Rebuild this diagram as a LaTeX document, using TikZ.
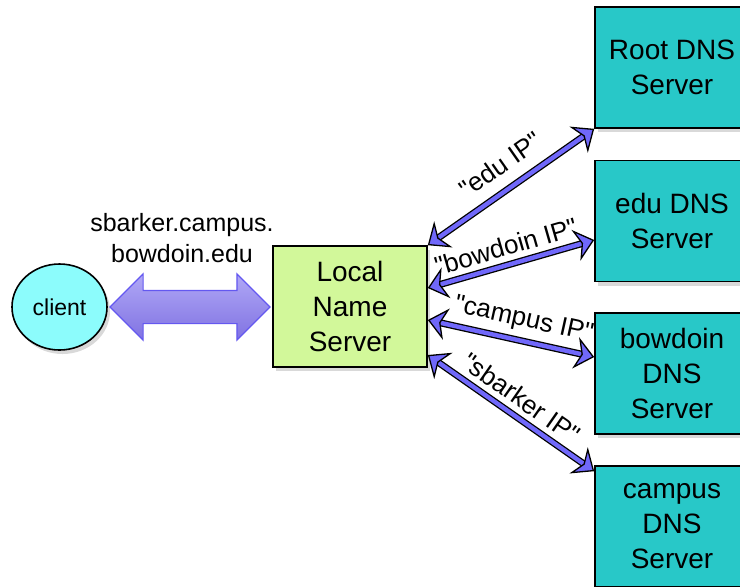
\documentclass[tikz,border=0pt]{standalone}
\usepackage{fontspec}
\setmainfont{Liberation Sans}
\usetikzlibrary{arrows.meta,shapes.arrows,shapes.geometric,shadows}
\definecolor{clientcyan}{RGB}{140,252,252}
\definecolor{localgreen}{RGB}{210,248,154}
\definecolor{servteal}{RGB}{40,200,200}
\definecolor{linkblue}{RGB}{112,104,250}
\definecolor{fattop}{RGB}{176,168,246}
\definecolor{fatbot}{RGB}{128,114,226}
\definecolor{fatedge}{RGB}{100,88,240}
\newcommand{\qt}[1]{\textquotedbl#1\textquotedbl}

\begin{document}
\begin{tikzpicture}[x=0.5pt,y=-0.5pt,
  box/.style={draw=black,line width=0.8pt,minimum width=77pt,minimum height=60.5pt,
    align=center,font=\fontsize{14}{17.5}\selectfont,
    drop shadow={shadow xshift=1.5pt,shadow yshift=-2pt,opacity=0.3}},
  server/.style={box,fill=servteal},
  tipend/.tip={Stealth[length=9.5pt,width=16pt,inset=3pt,fill=linkblue,color=black,line width=0.65pt]},
  link/.style={draw=linkblue,line width=2.2pt,tipend-tipend,
    preaction={draw=black,-,line width=3.5pt,shorten <=6pt,shorten >=6pt}},
  ip/.style={sloped,above,font=\fontsize{13}{15}\selectfont}]
\path[use as bounding box] (0,0) rectangle (740,586);
\clip (0,0) rectangle (740,586);
%client side
\node[ellipse,draw=black,line width=0.8pt,fill=clientcyan,minimum width=47.5pt,minimum height=43pt,
  font=\fontsize{11.5}{14}\selectfont,drop shadow={shadow xshift=1.5pt,shadow yshift=-2pt,opacity=0.3}]
  (client) at (59.5,307) {client};
\node[box,fill=localgreen] (local) at (350,306.5) {Local\\Name\\Server};
\node[double arrow,double arrow head extend=8.25pt,minimum height=80pt,inner xsep=0pt,inner ysep=8pt,
  top color=fattop,bottom color=fatbot,draw=fatedge,line width=0.6pt] (query) at (190,307) {};
\node[align=center,font=\fontsize{12.5}{15.5}\selectfont] (name) at (182,238) {sbarker.campus.\\bowdoin.edu};
%servers
\node[server] (root) at (672,67.5) {Root DNS\\Server};
\node[server] (edu) at (672,221) {edu DNS\\Server};
\node[server] (bowdoin) at (672,373.5) {bowdoin\\DNS\\Server};
\node[server] (campus) at (672,526.5) {campus\\DNS\\Server};
%replies
\draw[link] (local.north east) -- node[ip,pos=0.52,above=3pt] {\qt{edu IP}} (root.south west);
\draw[link] ([yshift=9.25pt]local.east) -- node[ip,pos=0.5] {\qt{bowdoin IP}} ([yshift=-9.5pt]edu.west);
\draw[link] ([yshift=-6.75pt]local.east) -- node[ip,pos=0.55] {\qt{campus IP}} ([yshift=8.25pt]bowdoin.west);
\draw[link] ([yshift=-24.25pt]local.east) -- node[ip,pos=0.5] {\qt{sbarker IP}} ([yshift=-3pt]campus.north west);
\end{tikzpicture}
\end{document}
